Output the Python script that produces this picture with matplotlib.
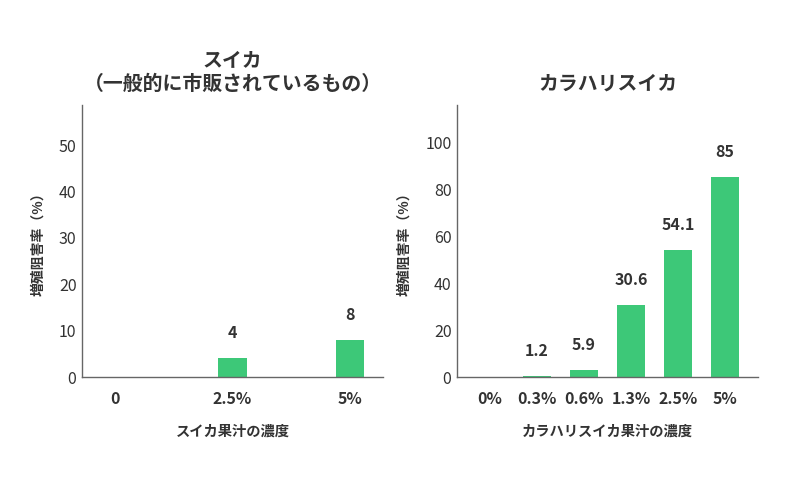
import matplotlib
matplotlib.use("Agg")
import matplotlib.pyplot as plt

plt.rcParams['font.family'] = ['Noto Sans CJK JP', 'DejaVu Sans']

# Left chart data
left_categories = ["0", "2.5%", "5%"]
left_values = [0, 4, 8]
left_labels = ["", "4", "8"]

# Right chart data
right_categories = ["0%", "0.3%", "0.6%", "1.3%", "2.5%", "5%"]
right_values = [0, 0.6, 3.0, 30.6, 54.1, 85]
right_labels = ["", "1.2", "5.9", "30.6", "54.1", "85"]

left_yticks = [0, 10, 20, 30, 40, 50]
right_yticks = [0, 20, 40, 60, 80, 100]

GREEN = "#3dc878"
TEXT = "#333333"
SPINE = "#666666"

fig = plt.figure(figsize=(7.86, 4.82), dpi=100)
W, H = 786, 482

def make_ax(x0, x1, y0, y1):
    return fig.add_axes([x0 / W, 1 - y1 / H, (x1 - x0) / W, (y1 - y0) / H])

axL = make_ax(82, 383, 105, 377)
axR = make_ax(457, 758, 105, 377)

def style(ax, cats, vals, labels, width, xlim, ylim, yticks, title, xlabel):
    x = list(range(len(cats)))
    ax.bar(x, vals, width=width, color=GREEN, zorder=2)
    for xi, v, lab in zip(x, vals, labels):
        if lab:
            ax.annotate(lab, (xi, v), xytext=(0, 25), textcoords="offset pixels",
                        ha="center", va="center", fontsize=11.5, color=TEXT,
                        fontweight="semibold")
    ax.set_xlim(*xlim)
    ax.set_ylim(*ylim)
    ax.set_xticks(x)
    ax.set_xticklabels(cats, fontsize=11.5, color=TEXT, fontweight="semibold")
    ax.set_yticks(yticks)
    ax.set_yticklabels([str(t) for t in yticks], fontsize=11.5, color=TEXT)
    ax.tick_params(axis="both", length=0)
    ax.tick_params(axis="x", pad=10)
    ax.tick_params(axis="y", pad=4)
    for s in ["top", "right"]:
        ax.spines[s].set_visible(False)
    for s in ["left", "bottom"]:
        ax.spines[s].set_color(SPINE)
        ax.spines[s].set_linewidth(1.0)
    ax.set_title(title, fontsize=14.3, fontweight="bold", color=TEXT, pad=11,
                 linespacing=1.15)
    ax.set_xlabel(xlabel, fontsize=10.3, fontweight="bold", color=TEXT, labelpad=13)
    ax.set_ylabel("増殖阻害率（%）", fontsize=10, fontweight="bold", color=TEXT,
                  labelpad=10)

style(axL, left_categories, left_values, left_labels, 0.24,
      (-0.285, 2.285), (0, 58.7), left_yticks,
      "スイカ\n（一般的に市販されているもの）", "スイカ果汁の濃度")
style(axR, right_categories, right_values, right_labels, 0.6,
      (-0.7, 5.7), (0, 115.8), right_yticks,
      "カラハリスイカ", "カラハリスイカ果汁の濃度")

fig.savefig("out.png", dpi=100, facecolor="white")
